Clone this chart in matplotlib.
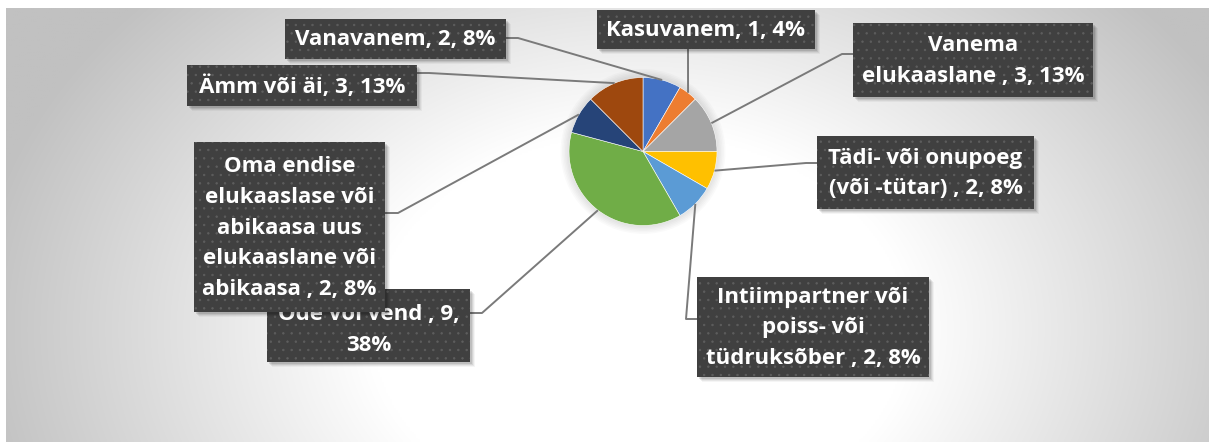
import numpy as np
import matplotlib
matplotlib.use("Agg")
import matplotlib.pyplot as plt
from matplotlib.patches import Rectangle, Circle

# ---- data ----
categories = ["Vanavanem", "Kasuvanem", "Vanema elukaaslane ",
              "Tädi- või onupoeg (või -tütar) ",
              "Intiimpartner või poiss- või tüdruksõber ",
              "Õde või vend ",
              "Oma endise elukaaslase või abikaasa uus elukaaslane või abikaasa ",
              "Ämm või äi"]
values = [2, 1, 3, 2, 2, 9, 2, 3]
colors = ["#4472C4", "#ED7D31", "#A5A5A5", "#FFC000",
          "#5B9BD5", "#70AD47", "#264478", "#9E480E"]

# ---- layout (pixel coordinates) ----
W, H = 1209, 442
line_breaks = [[], [], [1], [3], [2, 4], [5], [2, 4, 6, 8], []]
boxes = [(285, 19, 506, 59), (597, 10, 815, 49), (853, 23, 1093, 97),
         (817, 136, 1034, 209), (697, 277, 929, 377), (267, 289, 470, 362),
         (194, 142, 385, 312), (187, 65, 417, 106)]
text_dy = [1, 1, 1, 1, 1, 3, 1, 1]
attach = [(506, 38), (688, 49), (853, 54), (817, 163), (697, 319),
          (470, 313), (385, 213), (417, 73)]
elbow = [(518, 38), None, (842, 54), (806, 163), (686, 319),
         (482, 313), (398, 213), (429, 73)]
pie_center = (643, 151.5)
pie_radius = 74

plt.rcParams["hatch.color"] = "#5e5e5e"
plt.rcParams["hatch.linewidth"] = 0.5

fig = plt.figure(figsize=(W / 100, H / 100), dpi=100, facecolor="white")
ax = fig.add_axes([0, 0, 1, 1])

# background radial gradient
xs = np.linspace(6, W, 600)
ys = np.linspace(8, H, 250)
X, Y = np.meshgrid(xs, ys)
d = np.sqrt(((X - 640) / 640) ** 2 + ((Y - 330) / 470) ** 2)
t = np.clip((d - 0.42) / 0.63, 0, 1)
g = (255 - 62 * t) / 255.0
img = np.dstack([g, g, g])
ax.imshow(img, extent=(6, W, H, 8), zorder=0, interpolation="bilinear")

# soft pie glow
for k in range(6):
    ax.add_patch(Circle(pie_center, pie_radius + 1 + k * 1.5, facecolor="black",
                        edgecolor="none", alpha=0.018, zorder=1))

total = sum(values)
wedges, _ = ax.pie(values, colors=colors, startangle=-90, counterclock=True,
                   center=pie_center, radius=pie_radius,
                   wedgeprops=dict(edgecolor="white", linewidth=0.4))
for w in wedges:
    w.set_zorder(2)

for i, (cat, v, w) in enumerate(zip(categories, values, wedges)):
    pct = int(v / total * 100 + 0.5)
    words = f"{cat}, {v}, {pct}%".split()
    lines, cur = [], []
    for j, wd in enumerate(words):
        cur.append(wd)
        if (j + 1) in line_breaks[i]:
            lines.append(" ".join(cur)); cur = []
    lines.append(" ".join(cur))
    text = "\n".join(lines)

    # leader line from slice edge midpoint
    th = np.deg2rad((w.theta1 + w.theta2) / 2)
    ax_pt = (pie_center[0] + pie_radius * np.cos(th),
             pie_center[1] + pie_radius * np.sin(th))
    pts = [attach[i]] + ([elbow[i]] if elbow[i] else []) + [ax_pt]
    px, py = zip(*pts)
    ax.plot(px, py, color="#7a7a7a", lw=1.4, zorder=3, solid_capstyle="butt")

    x0, y0, x1, y1 = boxes[i]
    z = 4 + 2 * i
    for off, a in [(2, 0.10), (3, 0.08), (4, 0.06), (5, 0.04)]:
        ax.add_patch(Rectangle((x0 + off, y0 + off), x1 - x0, y1 - y0,
                               facecolor="black", edgecolor="none", alpha=a, zorder=z))
    ax.add_patch(Rectangle((x0, y0), x1 - x0, y1 - y0, facecolor="#404040",
                           hatch="..", zorder=z + 0.5))
    ax.text((x0 + x1) / 2, (y0 + y1) / 2 + text_dy[i], text, ha="center", va="center",
            multialignment="center", color="white", fontsize=16,
            fontweight="bold", family="Open Sans", linespacing=1.6, zorder=z + 1)

ax.set_xlim(0, W)
ax.set_ylim(H, 0)
ax.set_aspect("equal")
ax.axis("off")
fig.savefig("out.png", dpi=100, facecolor="white")
